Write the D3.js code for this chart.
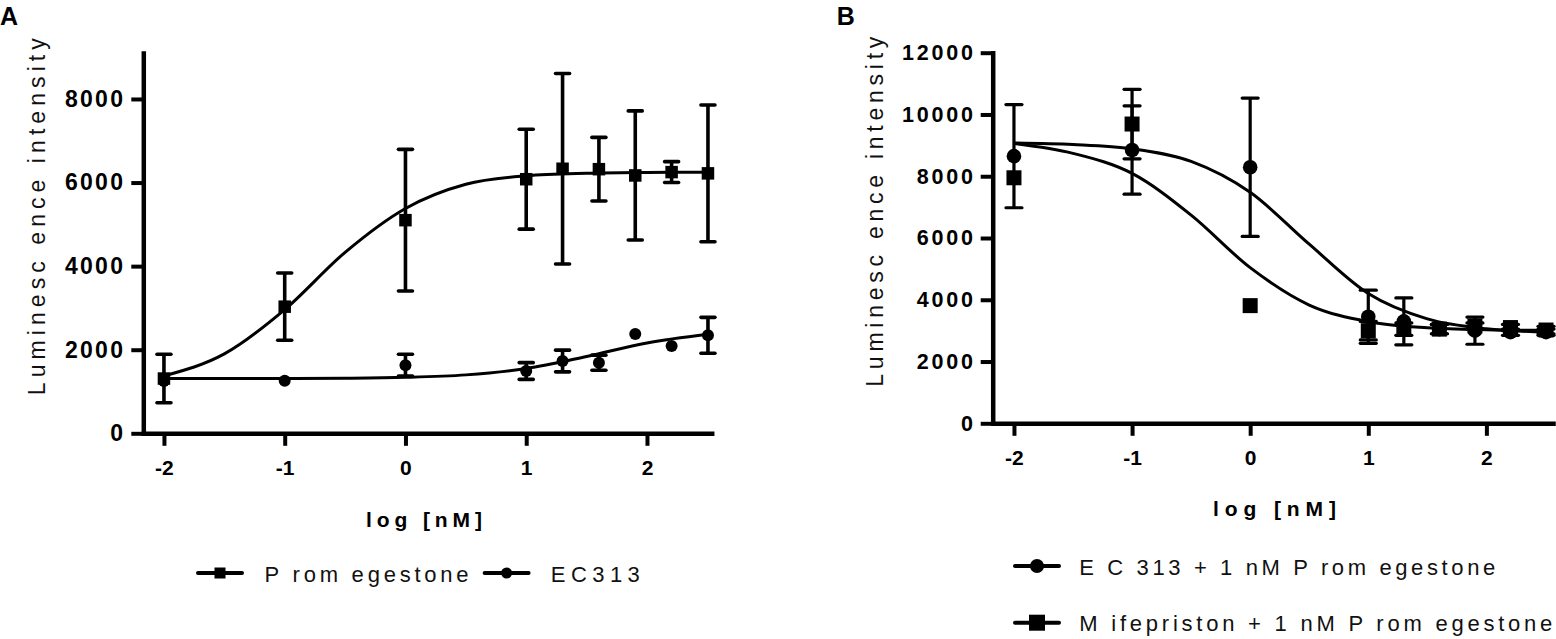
<!DOCTYPE html>
<html>
<head>
<meta charset="utf-8">
<script src="https://cdn.jsdelivr.net/npm/d3@7"></script>
<style>
body { margin: 0; background: #fff; }
svg { display: block; font-family: 'Liberation Sans', Arial, sans-serif; }
</style>
</head>
<body>
<div id="chart-area"></div>
<script>
// DATA
const logDose = [-2, -1, 0, 1, 1.301, 1.602, 1.903, 2.204, 2.505]
const fitDose = [-2, -1.5, -1, -0.5, 0, 0.5, 1, 1.5, 2, 2.505]
const xTicks = [-2, -1, 0, 1, 2]
const yTicksA = [0, 2000, 4000, 6000, 8000]
const yTicksB = [0, 2000, 4000, 6000, 8000, 10000, 12000]

// panel A
const promegestoneMean = [1310, 3030, 5100, 6080, 6330, 6320, 6170, 6250, 6220]
const promegestoneErr = [580, 805, 1695, 1195, 2280, 760, 1545, 250, 1635]
const promegestoneFit = [1374, 1900, 2960, 4330, 5380, 5960, 6160, 6220, 6240, 6247]
const ec313Mean = [1250, 1260, 1630, 1490, 1730, 1690, 2375, 2090, 2345]
const ec313Err = [0, 0, 260, 200, 260, 180, 0, 0, 430]
const ec313Fit = [1310, 1311, 1313, 1319, 1339, 1398, 1549, 1837, 2161, 2368]

// panel B
const ec313PromMean = [8650, 8850, 8290, 3450, 3300, 3050, 3000, 2950, 2950]
const ec313PromErr = [1670, 1430, 2240, 860, 760, 150, 440, 100, 100]
const ec313PromFit = [9080, 9030, 8890, 8480, 7480, 5800, 4200, 3380, 3060, 2955]
const mifepristonMean = [7950, 9690, 3810, 3000, 3050, 3050, 3150, 3100, 3020]
const mifepristonErr = [0, 1125, 0, 300, 200, 150, 100, 100, 120]
const mifepristonFit = [9060, 8740, 8090, 6740, 5040, 3830, 3290, 3095, 3030, 3010]

// TEXT
const yTitle = 'Luminesc ence intensity'
const xTitle = 'log [nM]'
const legendA = ['P rom egestone', 'EC313']
const legendB = ['E C 313 + 1 nM P rom egestone', 'M ifepriston + 1 nM P rom egestone']

// SVG
const svg = d3.select('#chart-area')
              .append('svg')
              .attr('width', 1556)
              .attr('height', 639)

const drawMarker = (g, shape, cx, cy, size) => {
    if (shape === 'square') {
        g.append('rect')
         .attr('x', cx - size / 2)
         .attr('y', cy - size / 2)
         .attr('width', size)
         .attr('height', size)
         .attr('fill', '#000')
    } else {
        g.append('circle')
         .attr('cx', cx)
         .attr('cy', cy)
         .attr('r', size / 2)
         .attr('fill', '#000')
    }
}

const drawPanel = cfg => {
    const g = svg.append('g').attr('class', 'panel-' + cfg.letter)

    // SCALES
    const x = d3.scaleLinear().domain(cfg.xDomain).range([cfg.left, cfg.right])
    const y = d3.scaleLinear().domain([0, cfg.yMax]).range([cfg.bottom, cfg.top])

    // PANEL LETTER
    g.append('text')
     .attr('x', cfg.letterX)
     .attr('y', 25)
     .attr('font-size', 25)
     .attr('font-weight', 'bold')
     .text(cfg.letter)

    // CURVES
    const line = d3.line()
                   .x(d => x(d[0]))
                   .y(d => y(d[1]))
                   .curve(d3.curveMonotoneX)
    cfg.series.forEach(s => {
        g.append('path')
         .datum(fitDose.map((d, i) => [d, s.fit[i]]))
         .attr('d', line)
         .attr('fill', 'none')
         .attr('stroke', '#000')
         .attr('stroke-width', 3)
    })

    // ERROR BARS + POINTS
    cfg.series.forEach(s => {
        logDose.forEach((d, i) => {
            const cx = x(d)
            const e = s.err[i]
            if (e > 0) {
                const y0 = y(s.mean[i] - e)
                const y1 = y(s.mean[i] + e)
                g.append('line')
                 .attr('x1', cx).attr('x2', cx)
                 .attr('y1', y0).attr('y2', y1)
                 .attr('stroke', '#000')
                 .attr('stroke-width', cfg.barWidth)
                ;[y0, y1].forEach(yy => {
                    g.append('line')
                     .attr('x1', cx - cfg.capWidth / 2).attr('x2', cx + cfg.capWidth / 2)
                     .attr('y1', yy).attr('y2', yy)
                     .attr('stroke', '#000')
                     .attr('stroke-width', cfg.barWidth)
                     .attr('stroke-linecap', 'round')
                })
            }
            drawMarker(g, s.shape, cx, y(s.mean[i]), s.shape === 'square' ? cfg.squareSize : cfg.circleSize)
        })
    })

    // X AXIS
    const xAxisCall = d3.axisBottom(x)
                        .tickValues(xTicks)
                        .tickSize(12.5)
                        .tickSizeOuter(0)
                        .tickPadding(cfg.xTickPad)
                        .tickFormat(d => String(d))
    const xAxisGroup = g.append('g')
                        .attr('class', 'x-axis')
                        .attr('transform', 'translate(0,' + cfg.bottom + ')')
                        .call(xAxisCall)
                        .attr('font-family', null)
                        .attr('font-size', cfg.xTickFont)
    xAxisGroup.select('.domain').attr('stroke-width', 4.5).attr('stroke-linecap', 'square')
    xAxisGroup.selectAll('.tick line').attr('stroke-width', 4)
    xAxisGroup.selectAll('.tick text')
              .attr('font-weight', 'bold')
              .attr('fill', '#000')

    // Y AXIS
    const yAxisCall = d3.axisLeft(y)
                        .tickValues(cfg.yTicks)
                        .tickSize(12)
                        .tickSizeOuter(0)
                        .tickPadding(cfg.yTickPad)
                        .tickFormat(d => String(d))
    const yAxisGroup = g.append('g')
                        .attr('class', 'y-axis')
                        .attr('transform', 'translate(' + cfg.left + ',0)')
                        .call(yAxisCall)
                        .attr('font-family', null)
                        .attr('font-size', cfg.yTickFont)
    yAxisGroup.select('.domain').attr('stroke-width', 4.5).attr('stroke-linecap', 'square')
    yAxisGroup.selectAll('.tick line').attr('stroke-width', 4)
    yAxisGroup.selectAll('.tick text')
              .attr('font-weight', 'bold')
              .attr('fill', '#000')
              .attr('letter-spacing', cfg.yTickSpacing)

    // AXIS TITLES
    g.append('text')
     .attr('transform', 'translate(' + cfg.yTitleX + ',' + cfg.yTitleY + ') rotate(-90)')
     .attr('text-anchor', 'middle')
     .attr('font-size', 23)
     .attr('fill', '#111')
     .attr('textLength', cfg.yTitleLen)
     .attr('lengthAdjust', 'spacing')
     .text(yTitle)

    g.append('text')
     .attr('x', cfg.xTitleX)
     .attr('y', cfg.xTitleY)
     .attr('font-size', 21)
     .attr('font-weight', 'bold')
     .attr('fill', '#000')
     .attr('textLength', cfg.xTitleLen)
     .attr('lengthAdjust', 'spacing')
     .text(xTitle)

    // LEGEND
    cfg.legend.forEach((item, i) => {
        const lg = g.append('g')
        lg.append('line')
          .attr('x1', item.x0).attr('x2', item.x0 + 44)
          .attr('y1', item.y).attr('y2', item.y)
          .attr('stroke', '#000')
          .attr('stroke-width', 4)
          .attr('stroke-linecap', 'round')
        drawMarker(lg, cfg.series[item.series].shape, item.x0 + 22, item.y, item.size)
        lg.append('text')
          .attr('x', item.textX)
          .attr('y', item.y + 8.5)
          .attr('font-size', 22)
          .attr('fill', '#111')
          .attr('textLength', item.textLen)
          .attr('lengthAdjust', 'spacing')
          .text(cfg.labels[i])
    })
}

drawPanel({
    letter: 'A', letterX: 0,
    left: 143.3, right: 711.7, top: 53, bottom: 433.3,
    xDomain: [-2.171, 2.536], yMax: 9100, yTicks: yTicksA,
    xTickFont: 21, xTickPad: 14.5, yTickFont: 23, yTickPad: 6, yTickSpacing: 2.3,
    barWidth: 3.6, capWidth: 14, squareSize: 12.5, circleSize: 12,
    yTitleX: 45, yTitleY: 216.7, yTitleLen: 357,
    xTitleX: 366, xTitleY: 527, xTitleLen: 116,
    labels: legendA,
    series: [
        { shape: 'square', mean: promegestoneMean, err: promegestoneErr, fit: promegestoneFit },
        { shape: 'circle', mean: ec313Mean, err: ec313Err, fit: ec313Fit }
    ],
    legend: [
        { series: 0, x0: 198, y: 573, size: 11, textX: 264.6, textLen: 204 },
        { series: 1, x0: 484.6, y: 573, size: 11, textX: 550.8, textLen: 89 }
    ]
})

drawPanel({
    letter: 'B', letterX: 836.7,
    left: 992.7, right: 1553, top: 52.7, bottom: 423.3,
    xDomain: [-2.18, 2.564], yMax: 12000, yTicks: yTicksB,
    xTickFont: 21, xTickPad: 14.5, yTickFont: 21.5, yTickPad: 5, yTickSpacing: 2.8,
    barWidth: 3.2, capWidth: 16, squareSize: 15, circleSize: 14.6,
    yTitleX: 883, yTitleY: 211.7, yTitleLen: 350,
    xTitleX: 1213, xTitleY: 516, xTitleLen: 123,
    labels: legendB,
    series: [
        { shape: 'circle', mean: ec313PromMean, err: ec313PromErr, fit: ec313PromFit },
        { shape: 'square', mean: mifepristonMean, err: mifepristonErr, fit: mifepristonFit }
    ],
    legend: [
        { series: 0, x0: 1015, y: 566, size: 14, textX: 1079.3, textLen: 416 },
        { series: 1, x0: 1015, y: 622.7, size: 16, textX: 1079.3, textLen: 473 }
    ]
})
</script>
</body>
</html>
